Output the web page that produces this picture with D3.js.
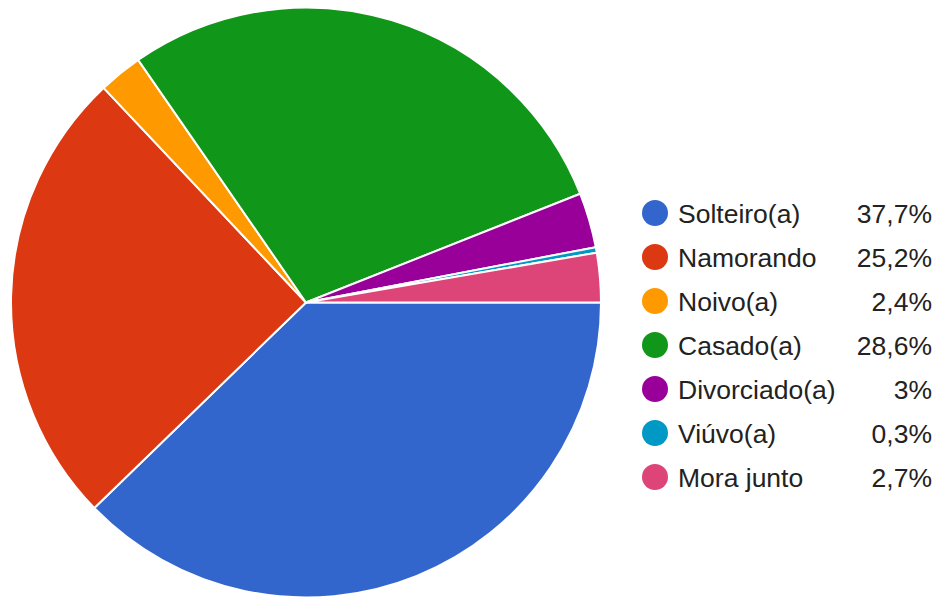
<!DOCTYPE html>
<html>
<head>
<meta charset="utf-8">
<script src="https://cdn.jsdelivr.net/npm/d3@7"></script>
<style>
  html, body { margin: 0; padding: 0; background: #fff; }
  svg { display: block; }
  text { font-family: Arial, "Liberation Sans", sans-serif; fill: #222; }
</style>
</head>
<body>
<svg id="chart" width="939" height="599"></svg>
<script>
// Estado civil — share of respondents
const categories = ["Solteiro(a)", "Namorando", "Noivo(a)", "Casado(a)", "Divorciado(a)", "Viúvo(a)", "Mora junto"];
const values = [37.7, 25.2, 2.4, 28.6, 3, 0.3, 2.7];
const valueLabels = ["37,7%", "25,2%", "2,4%", "28,6%", "3%", "0,3%", "2,7%"];
const colors = ["#3366cc", "#dc3912", "#ff9900", "#109618", "#990099", "#0099c6", "#dd4477"];

const svg = d3.select("#chart");
const cx = 306, cy = 302.5, radius = 295;

const color = d3.scaleOrdinal().domain(categories).range(colors);

const pie = d3.pie()
  .sort(null)
  .value(d => d.value)
  .startAngle(Math.PI / 2)
  .endAngle(Math.PI / 2 + 2 * Math.PI);

const data = categories.map((c, i) => ({ name: c, value: values[i], label: valueLabels[i] }));
const arc = d3.arc().innerRadius(0).outerRadius(radius);

svg.append("g")
  .attr("transform", `translate(${cx},${cy})`)
  .selectAll("path")
  .data(pie(data))
  .join("path")
  .attr("d", arc)
  .attr("fill", d => color(d.data.name))
  .attr("stroke", "#fff")
  .attr("stroke-width", 2)
  .attr("stroke-linejoin", "round");

// Legend
const legendY = d3.scalePoint().domain(categories).range([213, 477]);
const legend = svg.append("g");
const rows = legend.selectAll("g")
  .data(data)
  .join("g")
  .attr("transform", d => `translate(0,${legendY(d.name)})`);

rows.append("circle")
  .attr("cx", 655)
  .attr("cy", 0)
  .attr("r", 13)
  .attr("fill", d => color(d.name));

rows.append("text")
  .attr("x", 678)
  .attr("y", 0)
  .attr("dy", "0.36em")
  .attr("font-size", 26.5)
  .text(d => d.name);

rows.append("text")
  .attr("x", 932)
  .attr("y", 0)
  .attr("dy", "0.36em")
  .attr("font-size", 26.5)
  .attr("text-anchor", "end")
  .text(d => d.label);
</script>
</body>
</html>
